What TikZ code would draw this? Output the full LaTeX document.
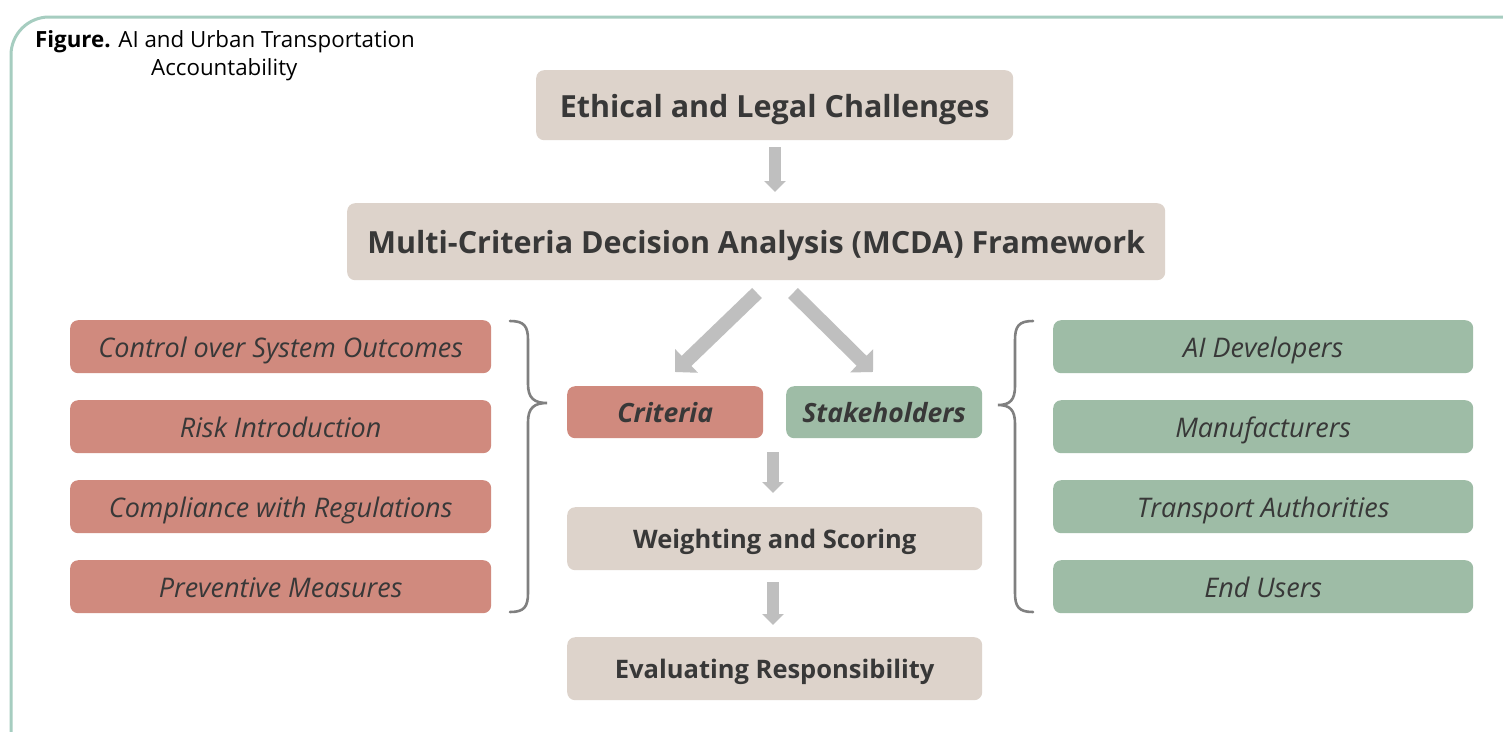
\documentclass[tikz,border=0pt]{standalone}
\usepackage{fontspec}
\setmainfont{Open Sans}
\usetikzlibrary{arrows.meta}
\definecolor{beigebox}{HTML}{DDD3CB}
\definecolor{redbox}{HTML}{D08A7E}
\definecolor{greenbox}{HTML}{9EBCA6}
\definecolor{arrowgray}{HTML}{BFBFBF}
\definecolor{bracegray}{HTML}{808080}
\definecolor{framecol}{HTML}{A6CDC0}
\definecolor{txt}{HTML}{383838}
\tikzset{
  box/.style={rounded corners=8pt, inner sep=0pt, text=txt, anchor=north west, text depth=0pt},
  mainbox/.style={box, fill=beigebox, text height=24pt, font=\fontsize{30.5}{34}\selectfont\bfseries},
  stepbox/.style={box, fill=beigebox, text height=20pt, minimum width=415pt, minimum height=63pt, font=\fontsize{25.5}{30}\selectfont\bfseries},
  critbox/.style={box, fill=redbox, text height=21pt, minimum width=421pt, minimum height=53pt, font=\fontsize{27}{31}\selectfont\itshape},
  stakebox/.style={box, fill=greenbox, text height=21pt, minimum width=420pt, minimum height=53pt, font=\fontsize{27}{31}\selectfont\itshape},
  midbox/.style={box, text height=20pt, minimum width=196pt, minimum height=52pt, font=\fontsize{26.5}{31}\selectfont\bfseries\itshape},
  varr/.style={draw=arrowgray, line width=12pt, -{Triangle[width=21pt,length=11pt]}},
  darr/.style={draw=arrowgray, line width=14pt, -{Triangle[width=32pt,length=16pt]}},
  brace/.style={draw=bracegray, line width=2.6pt, line cap=round},
}
\begin{document}
\begin{tikzpicture}[x=1pt,y=-1pt]
\useasboundingbox (0,0) rectangle (1503,731);
\clip (0,0) rectangle (1503,731);
\fill[white] (0,0) rectangle (1503,731);
% frame
\draw[framecol, line width=3pt, rounded corners=38pt] (11,17) rectangle (1560,780);
% caption
\node[anchor=north west, inner sep=0pt, font=\fontsize{22.3}{28}\selectfont, align=left, text=black] (cap) at (35,30)
  {\textbf{Figure.} AI and Urban Transportation\\\hspace*{116pt}Accountability};
% main boxes
\node[mainbox, minimum width=477pt, minimum height=70pt] (eth) at (536,70) {Ethical and Legal Challenges};
\node[mainbox, minimum width=818pt, minimum height=77pt] (mcda) at (347,203) {Multi-Criteria Decision Analysis (MCDA) Framework};
% criteria / stakeholders
\node[midbox, fill=redbox] (crit) at (567,386) {Criteria};
\node[midbox, fill=greenbox] (stake) at (786,386) {Stakeholders};
% steps
\node[stepbox] (weigh) at (567,507) {Weighting and Scoring};
\node[stepbox] (eval) at (567,637) {Evaluating Responsibility};
% left criteria
\node[critbox] (c1) at (70,320) {Control over System Outcomes};
\node[critbox] (c2) at (70,400) {Risk Introduction};
\node[critbox] (c3) at (70,480) {Compliance with Regulations};
\node[critbox] (c4) at (70,560) {Preventive Measures};
% right stakeholders
\node[stakebox] (s1) at (1053,320) {AI Developers};
\node[stakebox] (s2) at (1053,400) {Manufacturers};
\node[stakebox] (s3) at (1053,480) {Transport Authorities};
\node[stakebox] (s4) at (1053,560) {End Users};
% arrows
\coordinate (dl0) at (757,293);
\coordinate (dl1) at (675,372);
\coordinate (dr0) at (793,293);
\coordinate (dr1) at (873,372);
\draw[varr] ([yshift=-7pt]eth.south -| 775,0) -- ([yshift=11pt]mcda.north -| 775,0);
\path[darr] (dl0) -- (dl1);
\path[darr] (dr0) -- (dr1);
\draw[varr] ([yshift=55pt]weigh.north -| 773,0) -- ([yshift=14pt]weigh.north -| 773,0);
\draw[varr] ([yshift=-12pt]weigh.south -| 773,0) -- ([yshift=12pt]eval.north -| 773,0);
% braces
\draw[brace] (510,321) .. controls (524,321) and (528,326) .. (528,340)
  -- (528,384) .. controls (528,398) and (534,403) .. (547,403)
  .. controls (534,403) and (528,408) .. (528,422)
  -- (528,593) .. controls (528,607) and (524,612) .. (510,612);
\draw[brace] (1033,321) .. controls (1019,321) and (1015,326) .. (1015,340)
  -- (1015,386) .. controls (1015,400) and (1010,405) .. (998,405)
  .. controls (1010,405) and (1015,410) .. (1015,424)
  -- (1015,593) .. controls (1015,607) and (1019,612) .. (1033,612);
\end{tikzpicture}
\end{document}
